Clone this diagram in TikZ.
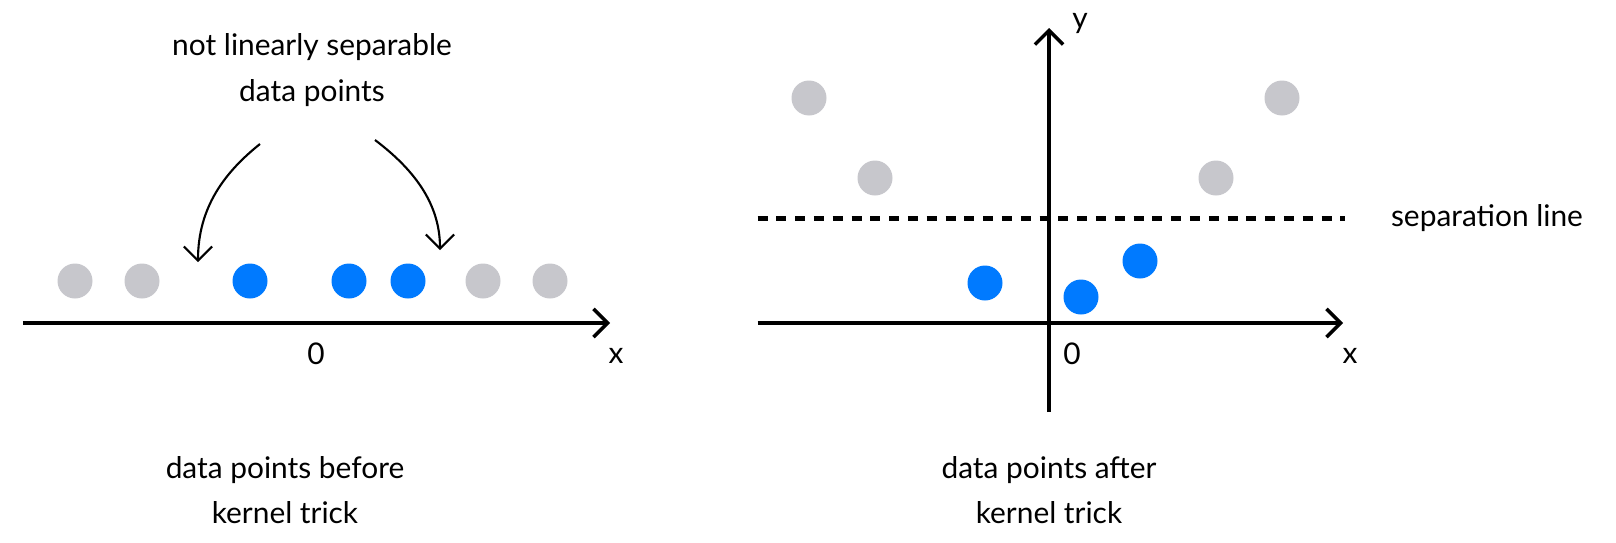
\documentclass[tikz,border=0pt]{standalone}
\usepackage{fontspec}
\setmainfont{Lato}
\usetikzlibrary{arrows.meta}
\definecolor{dotgray}{RGB}{199,199,204}
\definecolor{dotblue}{RGB}{0,122,255}
\begin{document}
\begin{tikzpicture}[>={Straight Barb[length=4pt,width=8pt]},
    lbl/.style={font=\fontsize{8.5}{13}\selectfont, align=center, inner sep=0pt},
    graydot/.style={circle, fill=dotgray, minimum size=0.35cm, inner sep=0pt},
    bluedot/.style={circle, fill=dotblue, minimum size=0.35cm, inner sep=0pt},
    axis/.style={line width=1pt, ->}]
    \useasboundingbox (0,0) rectangle (16.16,5.42);

    % 1. Truc x ben trai
    \coordinate (lx0) at (0.23,2.19);
    \coordinate (lx1) at (6.10,2.19);
    \draw[axis] (lx0) -- (lx1);
    \node[lbl] (lzero) at (3.16,1.88) {0};
    \node[lbl] (lxlab) at (6.16,1.86) {x};

    % 2. Cac diem tren truc
    \node[graydot] (l1) at (0.75,2.61) {};
    \node[graydot] (l2) at (1.42,2.61) {};
    \node[bluedot] (l3) at (2.50,2.61) {};
    \node[bluedot] (l4) at (3.49,2.61) {};
    \node[bluedot] (l5) at (4.08,2.61) {};
    \node[graydot] (l6) at (4.83,2.61) {};
    \node[graydot] (l7) at (5.50,2.61) {};

    % 3. Chu thich va mui ten cong
    \node[lbl] (note) at (3.12,4.72) {not linearly separable\\data points};
    \coordinate (aL0) at (2.60,3.98);
    \coordinate (aL1) at (1.98,2.80);
    \coordinate (aR0) at (3.75,4.02);
    \coordinate (aR1) at (4.40,2.92);
    \draw[->, line width=0.6pt] (aL0) .. controls (2.25,3.70) and (1.98,3.35) .. (aL1);
    \draw[->, line width=0.6pt] (aR0) .. controls (4.12,3.74) and (4.40,3.40) .. (aR1);
    \node[lbl] (capL) at (2.85,0.52) {data points before\\kernel trick};

    % 4. He truc ben phai
    \coordinate (rx0) at (7.575,2.19);
    \coordinate (rx1) at (13.43,2.19);
    \coordinate (ry0) at (10.49,1.30);
    \coordinate (ry1) at (10.49,5.14);
    \draw[axis] (rx0) -- (rx1);
    \draw[axis] (ry0) -- (ry1);
    \node[lbl] (rzero) at (10.72,1.88) {0};
    \node[lbl] (rxlab) at (13.50,1.86) {x};
    \node[lbl] (rylab) at (10.80,5.19) {y};

    % 5. Duong phan cach
    \coordinate (s0) at (7.575,3.235);
    \coordinate (s1) at (13.45,3.235);
    \draw[line width=1.15pt, dash pattern=on 2.85pt off 2.5pt] (s0) -- (s1);
    \node[lbl] (sep) at (14.87,3.235) {separation line};

    % 6. Cac diem sau bien doi
    \node[graydot] (r1) at (8.09,4.44) {};
    \node[graydot] (r2) at (8.75,3.64) {};
    \node[graydot] (r3) at (12.16,3.64) {};
    \node[graydot] (r4) at (12.82,4.44) {};
    \node[bluedot] (r5) at (9.85,2.59) {};
    \node[bluedot] (r6) at (10.81,2.45) {};
    \node[bluedot] (r7) at (11.40,2.81) {};
    \node[lbl] (capR) at (10.49,0.52) {data points after\\kernel trick};
\end{tikzpicture}
\end{document}
